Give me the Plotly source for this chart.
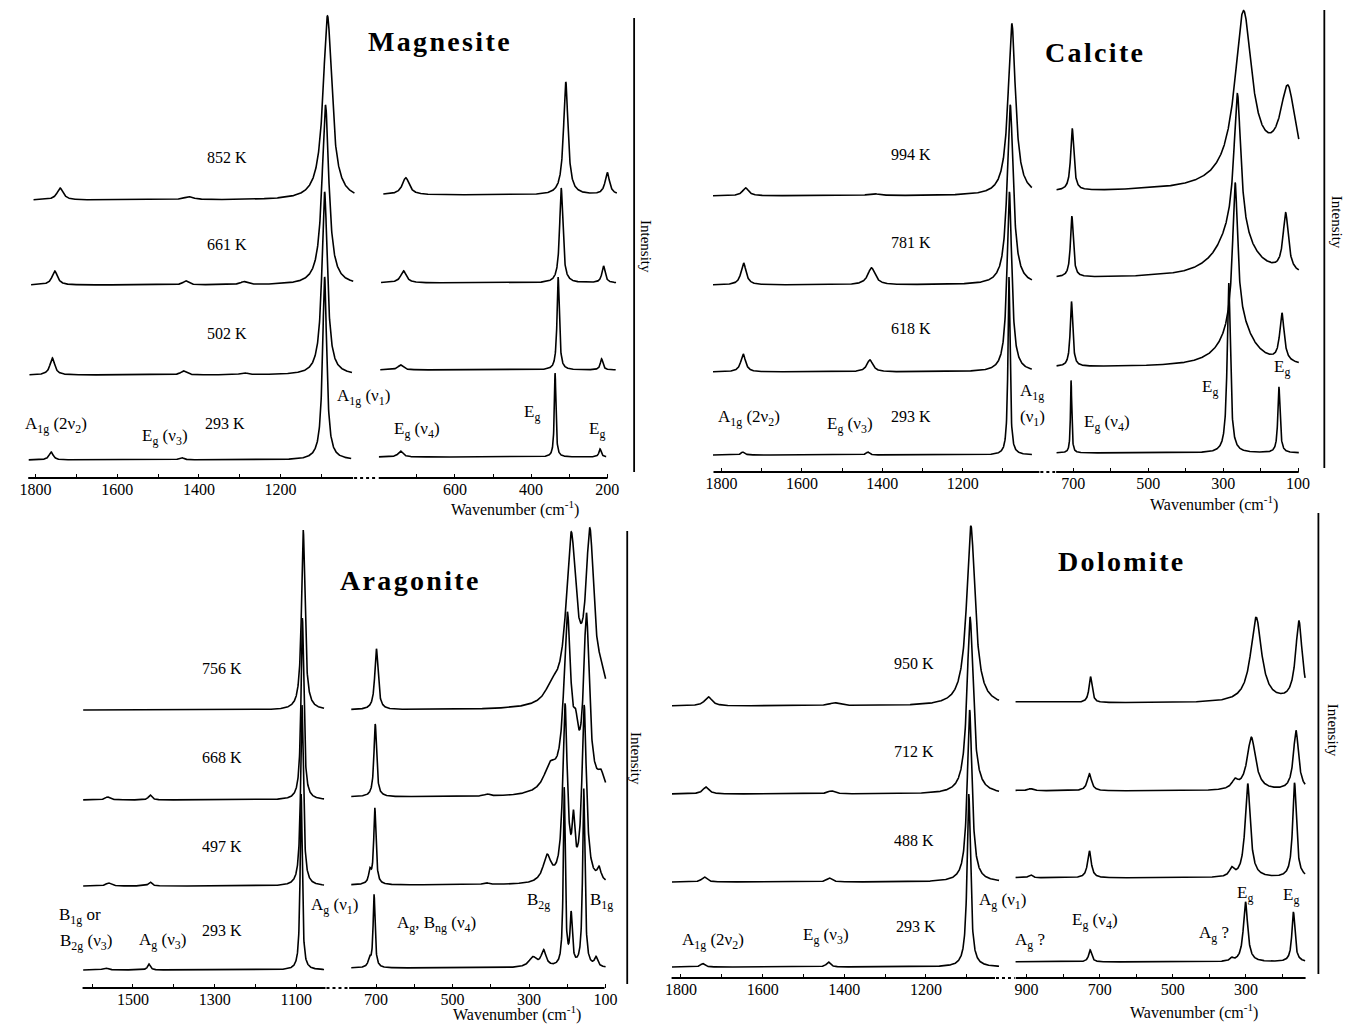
import numpy as np
import plotly.graph_objects as go

W, H = 1357, 1027

# ======================= DATA =======================
# Each peak: [centre (cm-1), height (intensity units), FWHM (cm-1)]

# ---- Magnesite ----
mag_temps = ["293 K", "502 K", "661 K", "852 K"]
mag_off_left = [18, 103, 193, 278]
mag_off_right = [21, 108, 195, 283]
mag_peaks = [
    [[1762, 8, 12], [1443, 2.5, 14], [1092, 183, 12], [743, 6, 14], [337, 84, 5], [219, 8, 7]],
    [[1759, 17, 14], [1438, 4, 16], [1290, 2, 20], [1092, 183, 16], [743, 5, 16], [329, 93, 7], [215, 11, 8]],
    [[1753, 14, 16], [1432, 4, 16], [1290, 3, 20], [1090, 180, 20], [735, 12, 18], [321, 95, 10], [210, 17, 10]],
    [[1740, 12, 18], [1425, 3, 28], [1085, 184, 26], [729, 17, 22], [309, 113, 14], [200, 22, 14]],
]
mag_span_left = [[1817, 1027], [1815, 1025], [1811, 1022], [1805, 1019]]
mag_span_right = [[800, 203], [796, 178], [794, 177], [788, 175]]
mag_ticks_left = [1800, 1700, 1600, 1500, 1400, 1300, 1200, 1100]
mag_labels_left = [1800, 1600, 1400, 1200]
mag_ticks_right = [700, 600, 500, 400, 300, 200]
mag_labels_right = [600, 400, 200]
mag_modes = ["A<sub>1g</sub> (2ν<sub>2</sub>)", "E<sub>g</sub> (ν<sub>3</sub>)", "A<sub>1g</sub> (ν<sub>1</sub>)",
             "E<sub>g</sub> (ν<sub>4</sub>)", "E<sub>g</sub>", "E<sub>g</sub>"]

# ---- Calcite ----
cal_temps = ["293 K", "618 K", "781 K", "994 K"]
cal_off_left = [17, 100, 187, 276]
cal_off_right = [19, 105, 194, 280]
cal_peaks = [
    [[1747, 3, 10], [1436, 3, 10], [1085, 178, 6], [706, 73, 4], [285, 170, 10], [151, 66, 7]],
    [[1746, 18, 14], [1431, 12, 18], [1084, 180, 14], [705, 65, 8], [268, 140, 16], [262, 45, 90], [143, 48, 14]],
    [[1745, 22, 15], [1427, 17, 22], [1082, 180, 18], [704, 61, 9], [262, 140, 22], [270, 45, 110], [133, 58, 17]],
    [[1740, 8, 18], [1422, 2, 30], [1078, 172, 22], [703, 62, 10], [246, 164, 55], [180, 20, 200], [127, 83, 50]],
]
cal_span_left = [[1821, 1028]] * 4
cal_span_right = [[745, 98]] * 4
cal_ticks_left = [1800, 1700, 1600, 1500, 1400, 1300, 1200, 1100]
cal_labels_left = [1800, 1600, 1400, 1200]
cal_ticks_right = [700, 600, 500, 400, 300, 200, 100]
cal_labels_right = [700, 500, 300, 100]
cal_modes = ["A<sub>1g</sub> (2ν<sub>2</sub>)", "E<sub>g</sub> (ν<sub>3</sub>)", "A<sub>1g</sub>", "(ν<sub>1</sub>)",
             "E<sub>g</sub> (ν<sub>4</sub>)", "E<sub>g</sub>", "E<sub>g</sub>"]

# ---- Aragonite ----
ara_temps = ["293 K", "497 K", "668 K", "756 K"]
ara_off_left = [18, 102, 188, 278]
ara_off_right = [20, 103, 191, 278]
ara_peaks = [
    [[1568, 2, 15], [1461, 6, 8], [1088, 176, 6], [717, 8, 8], [705, 73, 6], [290, 10, 25], [262, 16, 15],
     [208, 178, 6], [190, 50, 7], [157, 178, 7], [125, 9, 10]],
    [[1560, 3, 15], [1458, 4, 10], [1086, 181, 8], [716, 12, 8], [703, 76, 7], [413, 2, 15], [253, 26, 25],
     [206, 175, 14], [184, 48, 8], [156, 175, 14], [117, 12, 12]],
    [[1562, 3, 15], [1458, 5, 10], [1085, 182, 8], [702, 73, 8], [410, 2, 15], [245, 24, 40], [200, 172, 22],
     [178, 35, 15], [150, 172, 18], [112, 15, 20]],
    [[1083, 180, 10], [699, 61, 10], [240, 14, 40], [190, 165, 32], [141, 163, 26], [110, 18, 25]],
]
ara_span_left = [[1622, 1032]] * 4
ara_span_right = [[765, 100]] * 4
ara_ticks_left = [1600, 1500, 1400, 1300, 1200, 1100]
ara_labels_left = [1500, 1300, 1100]
ara_ticks_right = [700, 600, 500, 400, 300, 200, 100]
ara_labels_right = [700, 500, 300, 100]
ara_modes = ["B<sub>1g</sub> or", "B<sub>2g</sub> (ν<sub>3</sub>)", "A<sub>g</sub> (ν<sub>3</sub>)",
             "A<sub>g</sub> (ν<sub>1</sub>)", "A<sub>g</sub>, B<sub>ng</sub> (ν<sub>4</sub>)",
             "B<sub>2g</sub>", "B<sub>1g</sub>"]

# ---- Dolomite ----
dol_temps = ["293 K", "488 K", "712 K", "950 K"]
dol_off_left = [11, 96, 184, 272]
dol_off_right = [16, 100, 187, 275]
dol_peaks = [
    [[1747, 3.5, 12], [1439, 5, 12], [1095, 173, 10], [726, 12, 10], [339, 3, 10], [301, 60, 14], [170, 50, 10]],
    [[1743, 5, 15], [1437, 4, 15], [1093, 172, 14], [889, 3, 12], [728, 27, 12], [339, 8, 14], [295, 94, 17],
     [167, 95, 12]],
    [[1739, 7, 18], [1432, 3, 20], [1092, 177, 18], [889, 2, 15], [728, 17, 14], [330, 8, 20], [285, 53, 28],
     [163, 60, 17]],
    [[1733, 9, 22], [1424, 3, 30], [1090, 180, 25], [725, 26, 10], [272, 85, 36], [155, 80, 22]],
]
dol_span_left = [[1822, 1021]] * 4
dol_span_right = [[930, 138]] * 4
dol_ticks_left = [1800, 1700, 1600, 1500, 1400, 1300, 1200, 1100]
dol_labels_left = [1800, 1600, 1400, 1200]
dol_ticks_right = [900, 800, 700, 600, 500, 400, 300, 200]
dol_labels_right = [900, 700, 500, 300]
dol_modes = ["A<sub>1g</sub> (2ν<sub>2</sub>)", "E<sub>g</sub> (ν<sub>3</sub>)", "A<sub>g</sub> (ν<sub>1</sub>)",
             "A<sub>g</sub> ?", "E<sub>g</sub> (ν<sub>4</sub>)", "A<sub>g</sub> ?", "E<sub>g</sub>", "E<sub>g</sub>"]

# ======================= LAYOUT (pixel geometry) =======================
panels = [
    dict(title="Magnesite", temps=mag_temps, offL=mag_off_left, offR=mag_off_right, peaks=mag_peaks,
         spanL=mag_span_left, spanR=mag_span_right,
         tL=mag_ticks_left, lL=mag_labels_left, tR=mag_ticks_right, lR=mag_labels_right,
         axis_y=478, top=8, Lpx=(19.5, 352), Lrng=(1818, 1015), Rpx=(375, 618), Rrng=(800, 171),
         lineL=(19.5, 349), lineR=(375, 607),
         title_xy=(436, 42), temp_xy=[(219, 423), (221, 333), (221, 245), (221, 157)],
         wav_xy=(513, 509), int_line=(634, 18, 472), int_xy=(646, 247),
         modes=mag_modes,
         mode_xy=[(48, 425), (158, 437), (360, 397), (414, 430), (530, 413), (596, 430)]),
    dict(title="Calcite", temps=cal_temps, offL=cal_off_left, offR=cal_off_right, peaks=cal_peaks,
         spanL=cal_span_left, spanR=cal_span_right,
         tL=cal_ticks_left, lL=cal_labels_left, tR=cal_ticks_right, lR=cal_labels_right,
         axis_y=472, top=5, Lpx=(714, 1046), Lrng=(1821, 1007), Rpx=(1062, 1310), Rrng=(746, 93),
         lineL=(714.5, 1045), lineR=(1062, 1308),
         title_xy=(1100, 52), temp_xy=[(915, 417), (915, 328), (915, 242), (915, 155)],
         wav_xy=(1222, 503), int_line=(1334, 10, 468), int_xy=(1347, 222),
         modes=cal_modes,
         mode_xy=[(751, 418), (853, 425), (1038, 392), (1038, 418), (1114, 423), (1218, 388), (1291, 368)]),
    dict(title="Aragonite", temps=ara_temps, offL=ara_off_left, offR=ara_off_right, peaks=ara_peaks,
         spanL=ara_span_left, spanR=ara_span_right,
         tL=ara_ticks_left, lL=ara_labels_left, tR=ara_ticks_right, lR=ara_labels_right,
         axis_y=988, top=515, Lpx=(74, 322), Lrng=(1625, 1026), Rpx=(347, 607), Rrng=(765, 95),
         lineL=(74.6, 321), lineR=(345, 604),
         title_xy=(406, 580), temp_xy=[(216, 930), (216, 846), (216, 757), (216, 668)],
         wav_xy=(515, 1013), int_line=(627, 531, 984), int_xy=(636, 758),
         modes=ara_modes,
         mode_xy=[(72, 916), (78, 942), (156, 941), (330, 906), (434, 924), (537, 901), (601, 901)]),
    dict(title="Dolomite", temps=dol_temps, offL=dol_off_left, offR=dol_off_right, peaks=dol_peaks,
         spanL=dol_span_left, spanR=dol_span_right,
         tL=dol_ticks_left, lL=dol_labels_left, tR=dol_ticks_right, lR=dol_labels_right,
         axis_y=978, top=515, Lpx=(672, 1007), Lrng=(1823, 1014), Rpx=(1019, 1316), Rrng=(935, 134),
         lineL=(672, 1000), lineR=(1021, 1315),
         title_xy=(1127, 561), temp_xy=[(920, 926), (918, 840), (918, 751), (918, 663)],
         wav_xy=(1202, 1011), int_line=(1328, 513, 974), int_xy=(1343, 730),
         modes=dol_modes,
         mode_xy=[(714, 941), (829, 936), (1008, 901), (1036, 941), (1101, 921), (1222, 934), (1254, 894),
                  (1300, 896)]),
]

SERIF = "Liberation Serif, Times New Roman, serif"


def spectrum(x, offset, peaks):
    y = np.full_like(x, float(offset))
    for c, h, w in peaks:
        y += h / (1.0 + ((x - c) / (w / 2.0)) ** 2)
    return y


def px(xp):
    return xp / W


def py(yp):
    return 1 - yp / H


def note(x, y, text, size, angle=0, bold=False):
    return dict(x=px(x), y=py(y), xref="paper", yref="paper", xanchor="center", yanchor="middle",
                text=("<b>%s</b>" % text) if bold else text, textangle=angle, showarrow=False,
                font=dict(family=SERIF, size=size, color="black"))


fig = go.Figure()
layout = dict(width=W, height=H, margin=dict(l=0, r=0, t=0, b=0),
              paper_bgcolor="white", plot_bgcolor="rgba(0,0,0,0)", showlegend=False)
shapes, annotations = [], []

for i, p in enumerate(panels):
    yk = "yaxis" if i == 0 else f"yaxis{i + 1}"
    yname = "y" if i == 0 else f"y{i + 1}"
    layout[yk] = dict(domain=[py(p["axis_y"]), py(p["top"])], range=[0, p["axis_y"] - p["top"]],
                      visible=False, fixedrange=True)
    for side, k in (("L", 2 * i + 1), ("R", 2 * i + 2)):
        xk = "xaxis" if k == 1 else f"xaxis{k}"
        xname = "x" if k == 1 else f"x{k}"
        x0, x1 = p[side + "px"]
        ticks = p["t" + side]
        labs = p["l" + side]
        layout[xk] = dict(domain=[px(x0), px(x1)], range=list(p[side + "rng"]), anchor=yname,
                          showline=False, showgrid=False, zeroline=False, fixedrange=True,
                          ticks="inside", ticklen=4, tickwidth=1.4, tickcolor="black",
                          tickmode="array", tickvals=ticks,
                          ticktext=[str(t) if t in labs else "" for t in ticks],
                          tickfont=dict(family=SERIF, size=16, color="black"))
        for j in range(len(p["temps"])):
            s0, s1 = p["span" + side][j]
            xs = np.linspace(s0, s1, 1600)
            off = p["off" + side][j]
            ys = spectrum(xs, off, p["peaks"][j])
            fig.add_trace(go.Scatter(x=xs, y=ys, mode="lines", xaxis=xname, yaxis=yname,
                                     line=dict(color="black", width=1.6), hoverinfo="skip",
                                     showlegend=False))
    # axis lines + break
    ay = py(p["axis_y"])
    for a, b in (p["lineL"], p["lineR"]):
        shapes.append(dict(type="line", xref="paper", yref="paper", x0=px(a), x1=px(b), y0=ay, y1=ay,
                           line=dict(color="black", width=1.8)))
    shapes.append(dict(type="line", xref="paper", yref="paper", x0=px(p["lineL"][1] + 1),
                       x1=px(p["lineR"][0] - 1), y0=ay, y1=ay,
                       line=dict(color="black", width=1.8, dash="dot")))
    # intensity line
    ix, iy0, iy1 = p["int_line"]
    shapes.append(dict(type="line", xref="paper", yref="paper", x0=px(ix), x1=px(ix), y0=py(iy0), y1=py(iy1),
                       line=dict(color="black", width=1.8)))
    annotations.append(note(p["int_xy"][0], p["int_xy"][1], "Intensity", 15, angle=90))
    # title
    annotations.append(note(p["title_xy"][0], p["title_xy"][1], "\u200a".join(p["title"]), 28, bold=True))
    # temperature labels
    for t, (tx, ty) in zip(p["temps"], p["temp_xy"]):
        annotations.append(note(tx, ty, t, 16))
    # mode labels
    for t, (tx, ty) in zip(p["modes"], p["mode_xy"]):
        annotations.append(note(tx, ty, t, 17))
    # wavenumber label
    annotations.append(note(p["wav_xy"][0], p["wav_xy"][1], "Wavenumber (cm<sup>-1</sup>)", 16))

layout["shapes"] = shapes
layout["annotations"] = annotations
fig.update_layout(**layout)
fig.write_html("out.html", config={"displayModeBar": False},
               post_script="document.body.style.margin='0';document.body.style.overflow='hidden';")
